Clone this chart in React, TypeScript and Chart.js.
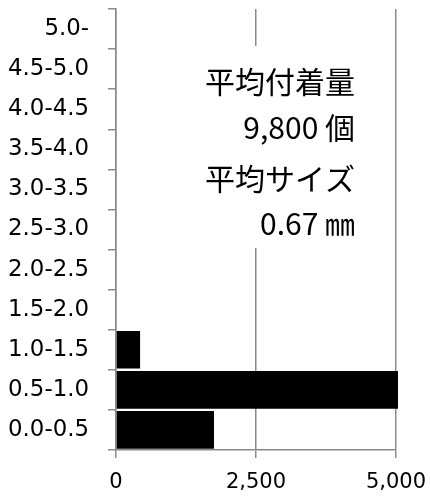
import React, { useEffect, useRef } from "react";
import { Chart, registerables } from "chart.js";

Chart.register(...registerables);

const categories = ["0.0-0.5", "0.5-1.0", "1.0-1.5", "1.5-2.0", "2.0-2.5", "2.5-3.0", "3.0-3.5", "3.5-4.0", "4.0-4.5", "4.5-5.0", "5.0-"];
const counts = [1750, 7620, 430, 0, 0, 0, 0, 0, 0, 0, 0];
const xTicks = [0, 2500, 5000];
const noteLines = ["平均付着量", "9,800 個", "平均サイズ", "0.67 ㎜"];

const GRAY = "#8a8a8a";

const notePlugin = {
  id: "note",
  afterDatasetsDraw(chart: any) {
    const { ctx, chartArea } = chart;
    ctx.save();
    ctx.fillStyle = "#ffffff";
    ctx.fillRect(chartArea.left + 60, 46, 186, 202);
    ctx.fillStyle = "#000000";
    ctx.font = '30px "Noto Sans CJK JP"';
    ctx.textAlign = "right";
    ctx.textBaseline = "middle";
    const rightX = chartArea.right - 41;
    const ys = [82, 128, 179, 224];
    noteLines.forEach((t, i) => ctx.fillText(t, rightX, ys[i]));
    ctx.restore();
  },
  afterDraw(chart: any) {
    const { ctx } = chart;
    const yScale = chart.scales.y;
    ctx.save();
    ctx.font = '20px "DejaVu Sans"';
    const w = ctx.measureText("4.5-5.0").width || 80;
    const size = Math.max(14, Math.min(26, (20 * 81) / w));
    ctx.font = `${size}px "DejaVu Sans"`;
    ctx.fillStyle = "#000000";
    ctx.textAlign = "right";
    ctx.textBaseline = "middle";
    categories.forEach((c, i) => {
      ctx.fillText(c, yScale.right - 27, yScale.getPixelForValue(i));
    });
    ctx.restore();
  },
};

export default function App() {
  const ref = useRef<HTMLCanvasElement>(null);
  useEffect(() => {
    if (!ref.current) return;
    const chart = new Chart(ref.current, {
      type: "bar",
      data: {
        labels: categories,
        datasets: [
          {
            data: counts,
            backgroundColor: "#000000",
            borderWidth: 0,
            barPercentage: 0.94,
            categoryPercentage: 1,
            clip: { left: 0, top: 0, right: 2, bottom: 0 } as any,
          },
        ],
      },
      options: {
        indexAxis: "y",
        animation: false,
        responsive: true,
        maintainAspectRatio: false,
        layout: { padding: { top: 9, right: 34, left: 0, bottom: 0 } },
        plugins: { legend: { display: false }, tooltip: { enabled: false } },
        scales: {
          x: {
            min: 0,
            max: 5000,
            afterBuildTicks: (scale: any) => {
              scale.ticks = xTicks.map((v) => ({ value: v }));
            },
            afterFit: (scale: any) => {
              scale.height = 48;
              scale.paddingLeft = 0;
              scale.paddingRight = 0;
            },
            grid: {
              display: true,
              drawOnChartArea: true,
              drawTicks: true,
              tickLength: 8,
              color: GRAY,
              lineWidth: 1.5,
            },
            border: { display: true, color: GRAY, width: 1.5 },
            ticks: {
              padding: 12,
              color: "#000",
              font: { family: '"DejaVu Sans"', size: 21 },
              maxRotation: 0,
              callback: (v: any) => Number(v).toLocaleString("en-US"),
            },
          },
          y: {
            reverse: true,
            afterFit: (scale: any) => {
              scale.width = 116;
              scale.paddingTop = 0;
              scale.paddingBottom = 0;
            },
            grid: {
              display: true,
              drawOnChartArea: false,
              drawTicks: true,
              tickLength: 8,
              color: GRAY,
              lineWidth: 1.5,
              offset: true,
            },
            border: { display: true, color: GRAY, width: 1.5 },
            ticks: {
              display: false,
              autoSkip: false,
            },
          },
        },
      },
      plugins: [notePlugin],
    });
    return () => chart.destroy();
  }, []);
  return (
    <div style={{ position: "fixed", left: 0, top: 0, width: 430, height: 498 }}>
      <canvas ref={ref} />
    </div>
  );
}
